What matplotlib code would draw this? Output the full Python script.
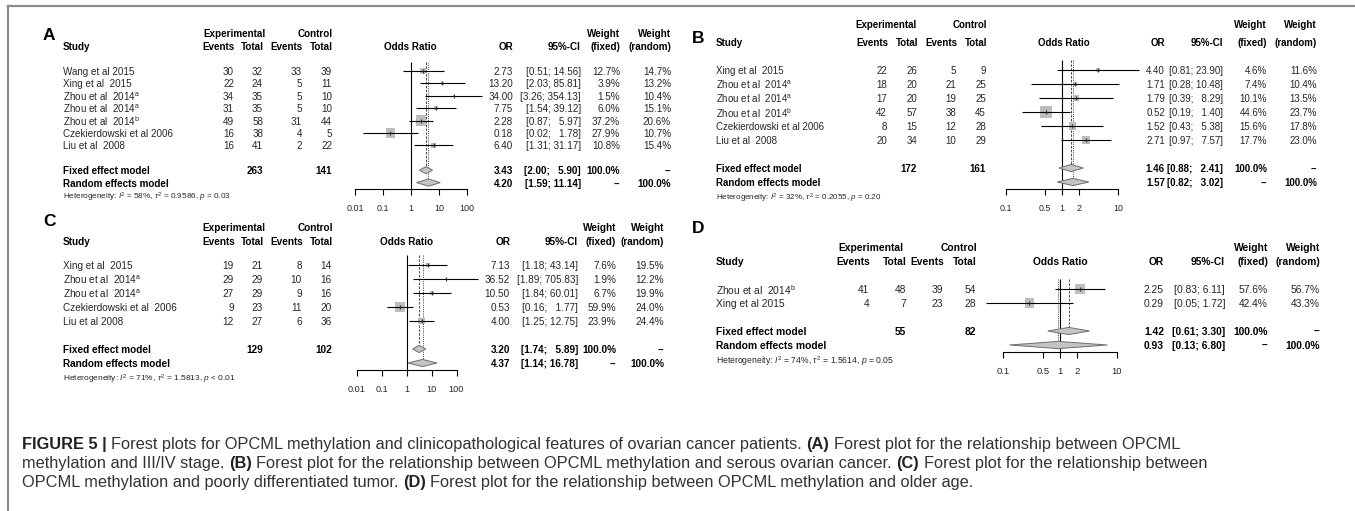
import matplotlib
matplotlib.use("Agg")
import matplotlib.pyplot as plt
from matplotlib.patches import Polygon
from matplotlib.lines import Line2D
from matplotlib.ticker import NullLocator
import numpy as np

W, H = 1355, 511
plt.rcParams['font.family'] = ['Liberation Sans', 'DejaVu Sans']
plt.rcParams['mathtext.fontset'] = 'custom'
plt.rcParams['mathtext.rm'] = 'Liberation Sans'
plt.rcParams['mathtext.it'] = 'Liberation Sans:italic'
plt.rcParams['mathtext.bf'] = 'Liberation Sans:bold'

# ---------------- data ----------------
A_studies = ["Wang et al 2015", "Xing et al  2015", "Zhou et al  2014$^{\\mathrm{a}}$",
             "Zhou et al  2014$^{\\mathrm{a}}$", "Zhou et al  2014$^{\\mathrm{b}}$",
             "Czekierdowski et al 2006", "Liu et al  2008"]
A_exp_events = [30, 22, 34, 31, 49, 16, 16]
A_exp_total = [32, 24, 35, 35, 58, 38, 41]
A_ctl_events = [33, 5, 5, 5, 31, 4, 2]
A_ctl_total = [39, 11, 10, 10, 44, 5, 22]
A_or = [2.73, 13.20, 34.00, 7.75, 2.28, 0.18, 6.40]
A_lo = [0.51, 2.03, 3.26, 1.54, 0.87, 0.02, 1.31]
A_hi = [14.56, 85.81, 354.13, 39.12, 5.97, 1.78, 31.17]
A_wfix = [12.7, 3.9, 1.5, 6.0, 37.2, 27.9, 10.8]
A_wran = [14.7, 13.2, 10.4, 15.1, 20.6, 10.7, 15.4]
A_sum_or = [3.43, 4.20]
A_sum_lo = [2.00, 1.59]
A_sum_hi = [5.90, 11.14]
A_totals = [263, 141]
A_het = "Heterogeneity: $I^2$ = 58%, $\\tau^2$ = 0.9586, $p$ = 0.03"
A_ticks = [0.01, 0.1, 1, 10, 100]
A_ticklabels = ["0.01", "0.1", "1", "10", "100"]

B_studies = ["Xing et al  2015", "Zhou et al  2014$^{\\mathrm{a}}$", "Zhou et al  2014$^{\\mathrm{a}}$",
             "Zhou et al  2014$^{\\mathrm{b}}$", "Czekierdowski et al 2006", "Liu et al  2008"]
B_exp_events = [22, 18, 17, 42, 8, 20]
B_exp_total = [26, 20, 20, 57, 15, 34]
B_ctl_events = [5, 21, 19, 38, 12, 10]
B_ctl_total = [9, 25, 25, 45, 28, 29]
B_or = [4.40, 1.71, 1.79, 0.52, 1.52, 2.71]
B_lo = [0.81, 0.28, 0.39, 0.19, 0.43, 0.97]
B_hi = [23.90, 10.48, 8.29, 1.40, 5.38, 7.57]
B_wfix = [4.6, 7.4, 10.1, 44.6, 15.6, 17.7]
B_wran = [11.6, 10.4, 13.5, 23.7, 17.8, 23.0]
B_sum_or = [1.46, 1.57]
B_sum_lo = [0.88, 0.82]
B_sum_hi = [2.41, 3.02]
B_totals = [172, 161]
B_het = "Heterogeneity: $I^2$ = 32%, $\\tau^2$ = 0.2055, $p$ = 0.20"
B_ticks = [0.1, 0.5, 1, 2, 10]
B_ticklabels = ["0.1", "0.5", "1", "2", "10"]

C_studies = ["Xing et al  2015", "Zhou et al  2014$^{\\mathrm{a}}$", "Zhou et al  2014$^{\\mathrm{a}}$",
             "Czekierdowski et al  2006", "Liu et al 2008"]
C_exp_events = [19, 29, 27, 9, 12]
C_exp_total = [21, 29, 29, 23, 27]
C_ctl_events = [8, 10, 9, 11, 6]
C_ctl_total = [14, 16, 16, 20, 36]
C_or = [7.13, 36.52, 10.50, 0.53, 4.00]
C_lo = [1.18, 1.89, 1.84, 0.16, 1.25]
C_hi = [43.14, 705.83, 60.01, 1.77, 12.75]
C_wfix = [7.6, 1.9, 6.7, 59.9, 23.9]
C_wran = [19.5, 12.2, 19.9, 24.0, 24.4]
C_sum_or = [3.20, 4.37]
C_sum_lo = [1.74, 1.14]
C_sum_hi = [5.89, 16.78]
C_totals = [129, 102]
C_het = "Heterogeneity: $I^2$ = 71%, $\\tau^2$ = 1.5813, $p$ < 0.01"
C_ticks = [0.01, 0.1, 1, 10, 100]
C_ticklabels = ["0.01", "0.1", "1", "10", "100"]

D_studies = ["Zhou et al  2014$^{\\mathrm{b}}$", "Xing et al 2015"]
D_exp_events = [41, 4]
D_exp_total = [48, 7]
D_ctl_events = [39, 23]
D_ctl_total = [54, 28]
D_or = [2.25, 0.29]
D_lo = [0.83, 0.05]
D_hi = [6.11, 1.72]
D_wfix = [57.6, 42.4]
D_wran = [56.7, 43.3]
D_sum_or = [1.42, 0.93]
D_sum_lo = [0.61, 0.13]
D_sum_hi = [3.30, 6.80]
D_totals = [55, 82]
D_het = "Heterogeneity: $I^2$ = 74%, $\\tau^2$ = 1.5614, $p$ = 0.05"
D_ticks = [0.1, 0.5, 1, 2, 10]
D_ticklabels = ["0.1", "0.5", "1", "2", "10"]

CAPTION = [
    [("FIGURE 5 | ", True), ("Forest plots for OPCML methylation and clinicopathological features of ovarian cancer patients. ", False),
     ("(A)", True), (" Forest plot for the relationship between OPCML", False)],
    [("methylation and III/IV stage. ", False), ("(B)", True),
     (" Forest plot for the relationship between OPCML methylation and serous ovarian cancer. ", False),
     ("(C)", True), (" Forest plot for the relationship between", False)],
    [("OPCML methylation and poorly differentiated tumor. ", False), ("(D)", True),
     (" Forest plot for the relationship between OPCML methylation and older age.", False)],
]

# ---------------- layout (pixels) ----------------
panels = [
    dict(letter="A", lx=43, ly=34, sx=63, h1=33, h2=46, row0=71, step=12.4, fs=7.1,
         cols=[234, 263, 302, 332], expc=234, orx=513, cix=581, wfx=620, wrx=671,
         p1=411, dec=28, orc=410, dash="--",
         studies=A_studies, ee=A_exp_events, et=A_exp_total, ce=A_ctl_events, ct=A_ctl_total,
         orv=A_or, lo=A_lo, hi=A_hi, wf=A_wfix, wr=A_wran, sor=A_sum_or, slo=A_sum_lo, shi=A_sum_hi,
         tot=A_totals, het=A_het, ticks=A_ticks, tl=A_ticklabels, sq=10.5),
    dict(letter="B", lx=692, ly=37, sx=716, h1=24, h2=42, row0=70, step=14.0, fs=7.0,
         cols=[887, 917, 956, 986], expc=886, orx=1165, cix=1223, wfx=1267, wrx=1317,
         p1=1062, dec=56, orc=1064, dash="--",
         studies=B_studies, ee=B_exp_events, et=B_exp_total, ce=B_ctl_events, ct=B_ctl_total,
         orv=B_or, lo=B_lo, hi=B_hi, wf=B_wfix, wr=B_wran, sor=B_sum_or, slo=B_sum_lo, shi=B_sum_hi,
         tot=B_totals, het=B_het, ticks=B_ticks, tl=B_ticklabels, sq=12),
    dict(letter="C", lx=43, ly=220, sx=63, h1=227, h2=241, row0=265, step=14.0, fs=7.2,
         cols=[234, 263, 302, 332], expc=234, orx=510, cix=578, wfx=616, wrx=664,
         p1=406.5, dec=25, orc=407, dash="--",
         studies=C_studies, ee=C_exp_events, et=C_exp_total, ce=C_ctl_events, ct=C_ctl_total,
         orv=C_or, lo=C_lo, hi=C_hi, wf=C_wfix, wr=C_wran, sor=C_sum_or, slo=C_sum_lo, shi=C_sum_hi,
         tot=C_totals, het=C_het, ticks=C_ticks, tl=C_ticklabels, sq=10),
    dict(letter="D", lx=692, ly=227, sx=716, h1=247, h2=261, row0=289, step=14.0, fs=7.4,
         cols=[869, 906, 943, 976], expc=871, orx=1164, cix=1225, wfx=1268, wrx=1320,
         p1=1060, dec=57, orc=1060, dash="\u2013",
         studies=D_studies, ee=D_exp_events, et=D_exp_total, ce=D_ctl_events, ct=D_ctl_total,
         orv=D_or, lo=D_lo, hi=D_hi, wf=D_wfix, wr=D_wran, sor=D_sum_or, slo=D_sum_lo, shi=D_sum_hi,
         tot=D_totals, het=D_het, ticks=D_ticks, tl=D_ticklabels, sq=10.5),
]

TXT = "#262626"
SQ = "#BDBDBD"
FIG_SP = "\u2007"

fig = plt.figure(figsize=(W / 100, H / 100), dpi=100)
bg = fig.add_axes([0, 0, 1, 1])
bg.set_xlim(0, W)
bg.set_ylim(H, 0)
bg.axis("off")

# figure frame (left and top)
fig.add_artist(Line2D([8 / W, 8 / W], [0, 1 - 6 / H], color="#8c8c8c", lw=1.6))
fig.add_artist(Line2D([8 / W, 1], [1 - 6 / H, 1 - 6 / H], color="#8c8c8c", lw=1.6))


def T(x, y, s, ha="left", fs=7, bold=False, color=None):
    bg.text(x, y, s, ha=ha, va="center_baseline", fontsize=fs,
            fontweight="bold" if bold else "normal",
            color=color if color else ("black" if bold else TXT))


def fmt_ci(lo, hi, width):
    s_hi = f"{hi:.2f}"
    pad = FIG_SP * max(0, width - len(s_hi))
    return f"[{lo:.2f}; {pad}{s_hi}]"


for P in panels:
    fs = P["fs"]
    n = len(P["studies"])
    rows = [P["row0"] + i * P["step"] for i in range(n)]
    yfix = P["row0"] + (n + 1) * P["step"]
    yran = yfix + P["step"]
    yhet = yran + P["step"]
    c1, c2, c3, c4 = P["cols"]

    # panel letter
    T(P["lx"], P["ly"], P["letter"], fs=12.5, bold=True, color="black")
    # headers
    T(P["sx"], P["h2"], "Study", fs=fs, bold=True)
    T(P["expc"], P["h1"], "Experimental", ha="center", fs=fs, bold=True)
    T(c4 + 1, P["h1"], "Control", ha="right", fs=fs, bold=True)
    for cx, lab in zip(P["cols"], ["Events", "Total", "Events", "Total"]):
        T(cx + 1, P["h2"], lab, ha="right", fs=fs, bold=True)
    T(P["orc"], P["h2"], "Odds Ratio", ha="center", fs=fs, bold=True)
    T(P["orx"], P["h2"], "OR", ha="right", fs=fs, bold=True)
    T(P["cix"], P["h2"], "95%-CI", ha="right", fs=fs, bold=True)
    T(P["wfx"], P["h1"], "Weight", ha="right", fs=fs, bold=True)
    T(P["wrx"], P["h1"], "Weight", ha="right", fs=fs, bold=True)
    T(P["wfx"], P["h2"], "(fixed)", ha="right", fs=fs, bold=True)
    T(P["wrx"], P["h2"], "(random)", ha="right", fs=fs, bold=True)

    width = min(5, max(len(f"{h:.2f}") for h in list(P["hi"]) + list(P["shi"])))
    # study rows
    for i in range(n):
        y = rows[i]
        T(P["sx"], y, P["studies"][i], fs=fs)
        for cx, v in zip(P["cols"], [P["ee"][i], P["et"][i], P["ce"][i], P["ct"][i]]):
            T(cx, y, str(v), ha="right", fs=fs)
        T(P["orx"], y, f"{P['orv'][i]:.2f}", ha="right", fs=fs)
        T(P["cix"], y, fmt_ci(P["lo"][i], P["hi"][i], width), ha="right", fs=fs)
        T(P["wfx"], y, f"{P['wf'][i]:.1f}%", ha="right", fs=fs)
        T(P["wrx"], y, f"{P['wr'][i]:.1f}%", ha="right", fs=fs)

    # summary rows
    T(P["sx"], yfix, "Fixed effect model", fs=fs, bold=True)
    T(P["sx"], yran, "Random effects model", fs=fs, bold=True)
    T(c2, yfix, str(P["tot"][0]), ha="right", fs=fs, bold=True)
    T(c4, yfix, str(P["tot"][1]), ha="right", fs=fs, bold=True)
    for k, y in enumerate([yfix, yran]):
        T(P["orx"], y, f"{P['sor'][k]:.2f}", ha="right", fs=fs, bold=True)
        T(P["cix"], y, fmt_ci(P["slo"][k], P["shi"][k], width), ha="right", fs=fs, bold=True)
    T(P["wfx"], yfix, "100.0%", ha="right", fs=fs, bold=True)
    T(P["wrx"], yfix, P["dash"], ha="right", fs=fs, bold=True)
    T(P["wfx"], yran, P["dash"], ha="right", fs=fs, bold=True)
    T(P["wrx"], yran, "100.0%", ha="right", fs=fs, bold=True)
    T(P["sx"], yhet, P["het"], fs=fs - 1.2)

    # forest axes
    p1, dec = P["p1"], P["dec"]
    x0, x1 = p1 - 3.2 * dec, p1 + 3.2 * dec
    ytop = rows[0] - 0.7 * P["step"]
    yaxis = yran + 0.5 * P["step"]
    y0, y1 = ytop - 5, yaxis + 30
    ax = fig.add_axes([x0 / W, 1 - y1 / H, (x1 - x0) / W, (y1 - y0) / H])
    ax.set_xscale("log")
    ax.set_xlim(10 ** ((x0 - p1) / dec), 10 ** ((x1 - p1) / dec))
    ax.set_ylim(y1, y0)
    ax.patch.set_visible(False)
    for s in ["top", "left", "right"]:
        ax.spines[s].set_visible(False)
    ax.spines["bottom"].set_position(("data", yaxis))
    ax.spines["bottom"].set_bounds(min(P["ticks"]), max(P["ticks"]))
    ax.spines["bottom"].set_linewidth(0.8)
    ax.set_xticks(P["ticks"])
    ax.set_xticklabels(P["tl"])
    ax.xaxis.set_minor_locator(NullLocator())
    ax.set_yticks([])
    ax.tick_params(axis="x", direction="out", length=4, width=0.8, pad=7,
                   labelsize=fs - 0.6, labelcolor=TXT)

    # reference lines
    hd = 3.6
    ax.vlines(1, ytop, yaxis, color="black", lw=0.8, zorder=1)
    ax.vlines(P["sor"][0], ytop, yfix - hd, color="#444444", lw=0.7, ls=(0, (2.5, 1.5)), zorder=1)
    ax.vlines(P["sor"][1], ytop, yran - hd, color="#444444", lw=0.7, ls=(0, (1, 1.2)), zorder=1)

    # study squares + CIs
    wmax = max(P["wf"])
    sides = [P["sq"] * np.sqrt(w / wmax) for w in P["wf"]]
    ax.scatter(P["orv"], rows, marker="s", s=[(sd * 0.72) ** 2 for sd in sides],
               color=SQ, edgecolors="none", zorder=2, clip_on=False)
    ax.hlines(rows, P["lo"], P["hi"], color="black", lw=0.8, zorder=3, clip_on=False)
    ax.scatter(P["orv"], rows, marker="|", s=5, color="#333333", linewidths=0.8, zorder=4, clip_on=False)

    # diamonds
    for k, y in enumerate([yfix, yran]):
        poly = Polygon([[P["slo"][k], y], [P["sor"][k], y - hd], [P["shi"][k], y], [P["sor"][k], y + hd]],
                       closed=True, facecolor="#C4C4C4", edgecolor="#6e6e6e", lw=0.7, zorder=3, clip_on=False)
        ax.add_patch(poly)

# ---------------- caption ----------------
fig.canvas.draw()
renderer = fig.canvas.get_renderer()


def text_width(s, size, bold):
    t = bg.text(0, 0, s, fontsize=size, fontweight="bold" if bold else "normal")
    bb = t.get_window_extent(renderer)
    t.remove()
    return bb.width


cap_size = 10.0
target = 1163.0
w1 = sum(text_width(p.strip(), cap_size, b) for p, b in CAPTION[0])
w_sp = text_width("a a", cap_size, False) - text_width("aa", cap_size, False)
nsp = sum(len(p) - len(p.strip()) for p, _ in CAPTION[0])
cap_size = cap_size * target / (w1 + nsp * w_sp)
w_sp = text_width("a a", cap_size, False) - text_width("aa", cap_size, False)

cap_x0 = 22
cap_y = [443, 462, 481]
for line, y in zip(CAPTION, cap_y):
    x = cap_x0
    for piece, bold in line:
        lead = len(piece) - len(piece.lstrip())
        trail = len(piece) - len(piece.rstrip())
        x += lead * w_sp
        core = piece.strip()
        bg.text(x, y, core, ha="left", va="center_baseline", fontsize=cap_size,
                fontweight="bold" if bold else "normal", color="#222222" if bold else "#333333")
        x += text_width(core, cap_size, bold) + trail * w_sp

fig.savefig("out.png", dpi=100)
